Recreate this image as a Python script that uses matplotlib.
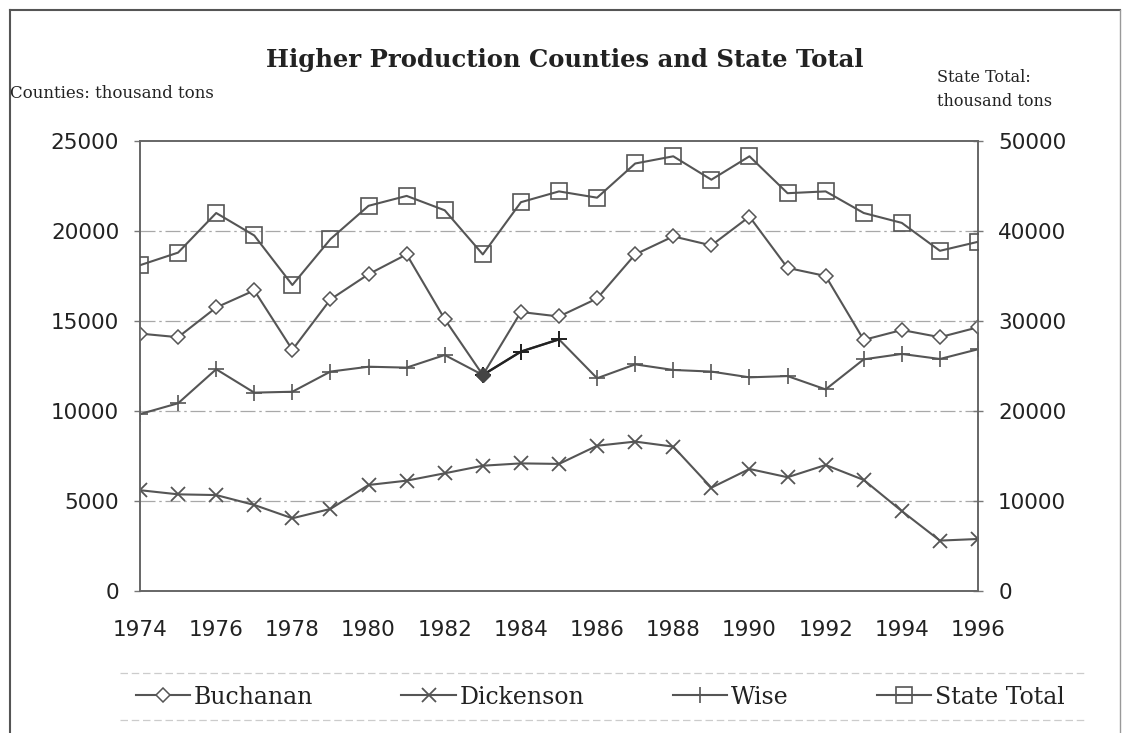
import matplotlib
matplotlib.use("Agg")
import matplotlib.pyplot as plt
from matplotlib.lines import Line2D

years = list(range(1974, 1997))
buchanan = [14300, 14100, 15750, 16700, 13400, 16200, 17600, 18700, 15100, 12000,
            15500, 15250, 16250, 18700, 19700, 19200, 20800, 17950, 17500, 13950,
            14500, 14100, 14650]
dickenson = [5600, 5370, 5330, 4780, 4040, 4560, 5890, 6130, 6540, 6960,
             7090, 7060, 8070, 8300, 8020, 5740, 6780, 6320, 7000, 6170,
             4440, 2800, 2890]
wise = [9830, 10430, 12320, 11020, 11070, 12190, 12460, 12410, 13110, 12000,
        13300, 13980, 11820, 12590, 12280, 12190, 11870, 11940, 11200, 12870,
        13170, 12890, 13430]
state_total = [36200, 37600, 42000, 39500, 34000, 39100, 42800, 43900, 42300, 37400,
               43200, 44400, 43700, 47500, 48300, 45700, 48300, 44200, 44400, 42000,
               40900, 37800, 38800]
left_ticks = [0, 5000, 10000, 15000, 20000, 25000]
right_ticks = [0, 10000, 20000, 30000, 40000, 50000]
x_ticks = list(range(1974, 1997, 2))

W, H = 1126, 733
fig = plt.figure(figsize=(W / 100, H / 100), dpi=100)
fig.patch.set_facecolor("white")

L, R, T, B = 140, 978, 141, 591
ax = fig.add_axes([L / W, 1 - B / H, (R - L) / W, (B - T) / H])
ax2 = ax.twinx()

lc = "#555555"
lw = 1.5

# grid lines
for v in [5000, 10000, 15000, 20000]:
    ax.axhline(v, color="#a8a8a8", lw=0.9, ls=(0, (12, 3, 2, 3)), zorder=1)

hb, = ax.plot(years, buchanan, color=lc, lw=lw, marker="D", ms=7, mfc="white",
              mec=lc, mew=1.1, zorder=3)
hd, = ax.plot(years, dickenson, color=lc, lw=lw, marker="x", ms=9.5, mec=lc, mew=1.3, zorder=3)
hw, = ax.plot(years, wise, color=lc, lw=lw, marker="+", ms=11, mec=lc, mew=1.2, zorder=3)
# darker segment of Wise
ax.plot(years[9:12], wise[9:12], color="#222222", lw=1.7, marker="+", ms=11,
        mec="#222222", mew=1.4, zorder=4)
# overlapping point of 1983 appears filled
ax.plot([years[9]], [buchanan[9]], marker="D", ms=7, color="#444444", zorder=5)

hs, = ax2.plot(years, state_total, color=lc, lw=lw, marker="s", ms=11, mfc="none",
               mec=lc, mew=1.2, zorder=3)

ax.set_xlim(1974, 1996)
ax.set_ylim(0, 25000)
ax2.set_ylim(0, 50000)
ax.set_xticks(x_ticks)
ax.set_xticklabels([str(x) for x in x_ticks])
ax.set_yticks(left_ticks)
ax.set_yticklabels([str(v) for v in left_ticks])
ax2.set_yticks(right_ticks)
ax2.set_yticklabels([str(v) for v in right_ticks])

for a in (ax, ax2):
    for s in a.spines.values():
        s.set_color("#666666")
        s.set_linewidth(1.2)

ax.tick_params(axis="x", length=0, pad=21, labelsize=15.5, labelcolor="#222222")
ax.tick_params(axis="y", length=4, width=1, color="#777777", pad=11, labelsize=15.5,
               labelcolor="#222222")
ax2.tick_params(axis="y", length=7, width=1, color="#777777", direction="inout", pad=11,
                labelsize=15.5, labelcolor="#222222")

serif = "DejaVu Serif"
fig.text(565 / W, 1 - 60 / H, "Higher Production Counties and State Total",
         ha="center", va="center", fontsize=17.5, fontweight="bold", family=serif,
         color="#222222")
fig.text(10 / W, 1 - 93 / H, "Counties: thousand tons", ha="left", va="center",
         fontsize=12, family=serif, color="#222222")
fig.text(937 / W, 1 - 77 / H, "State Total:", ha="left", va="center",
         fontsize=11.5, family=serif, color="#222222")
fig.text(937 / W, 1 - 101 / H, "thousand tons", ha="left", va="center",
         fontsize=11.5, family=serif, color="#222222")

leg = fig.legend([hb, hd, hw, hs], ["Buchanan", "Dickenson", "Wise", "State Total"],
                 loc="center", bbox_to_anchor=(600 / W, 1 - 697 / H), ncol=4,
                 frameon=False, handlelength=2.3, handletextpad=0.15,
                 columnspacing=3.75, prop={"family": serif, "size": 17})
for t in leg.get_texts():
    t.set_color("#222222")

# faint legend frame lines
fig.add_artist(Line2D([120 / W, 1085 / W], [1 - 673 / H, 1 - 673 / H], color="#cccccc",
                      lw=0.9, ls=(0, (6, 3))))
fig.add_artist(Line2D([120 / W, 1085 / W], [1 - 720 / H, 1 - 720 / H], color="#cccccc",
                      lw=0.9, ls=(0, (6, 3))))

# outer border
fig.add_artist(Line2D([10 / W, 10 / W], [0, 1 - 10 / H], color="#555555", lw=1.5))
fig.add_artist(Line2D([10 / W, 1120 / W], [1 - 10 / H, 1 - 10 / H], color="#555555", lw=1.5))
fig.add_artist(Line2D([1120 / W, 1120 / W], [0, 1 - 10 / H], color="#999999", lw=1.0))

fig.savefig("out.png", dpi=100, facecolor="white")
